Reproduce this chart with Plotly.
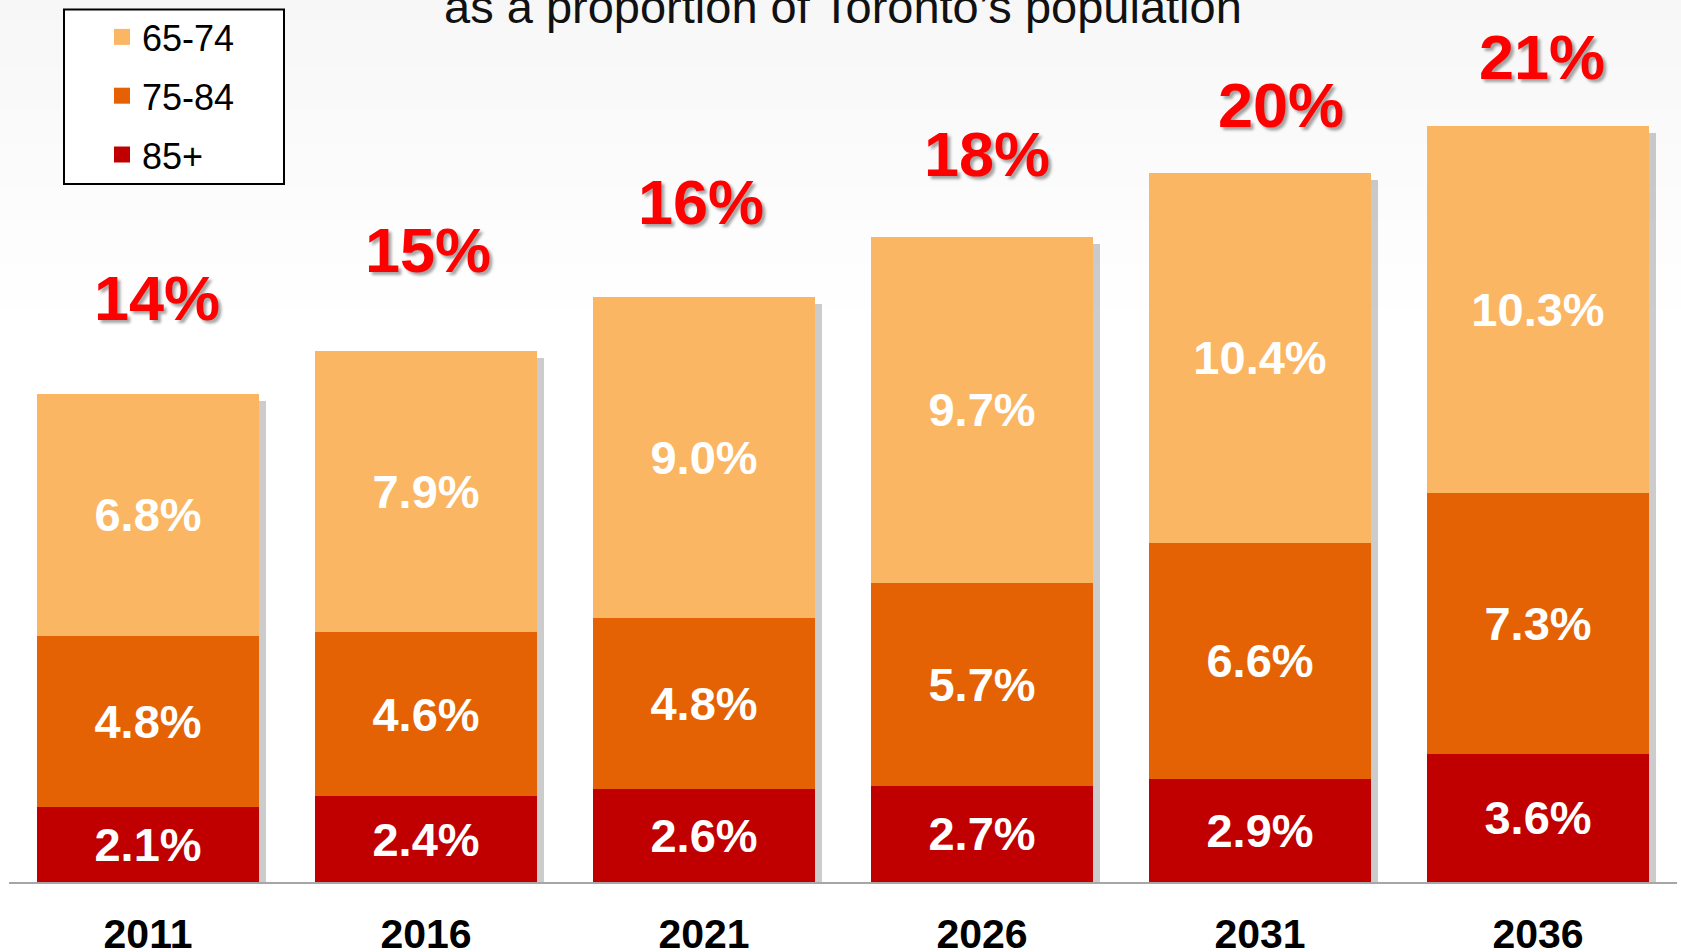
import plotly.graph_objects as go

# values (% of Toronto's population)
years = ["2011", "2016", "2021", "2026", "2031", "2036"]
age_85_plus = [2.1, 2.4, 2.6, 2.7, 2.9, 3.6]
age_75_84 = [4.8, 4.6, 4.8, 5.7, 6.6, 7.3]
age_65_74 = [6.8, 7.9, 9.0, 9.7, 10.4, 10.3]
total_labels = ["14%", "15%", "16%", "18%", "20%", "21%"]

colors = {"65-74": "#FBB664", "75-84": "#E46204", "85+": "#C00000"}

W, H = 1681, 952
L, R, T, B = 9, 4, 0, 70
plot_w = W - L - R
plot_h = H - T - B
px_per_unit = 35.65
y_top = plot_h / px_per_unit

series = [("85+", age_85_plus), ("75-84", age_75_84), ("65-74", age_65_74)]
totals = [a + b + c for a, b, c in zip(age_85_plus, age_75_84, age_65_74)]

fig = go.Figure()

# soft drop shadow behind each stacked bar (drawn on the base axes, offset a few px)
fig.add_trace(go.Bar(
    x=years, y=totals, xaxis="x", yaxis="y",
    marker=dict(color="rgba(0,0,0,0.2)", line=dict(width=0)),
    showlegend=False, hoverinfo="skip",
))

for name, vals in series:
    fig.add_trace(go.Bar(
        x=years, y=vals, name=name, xaxis="x2", yaxis="y2",
        marker=dict(color=colors[name], line=dict(width=0)),
        text=[f"{v:.1f}%" for v in vals],
        textposition="inside", insidetextanchor="middle", textangle=0,
        textfont=dict(family="Liberation Sans, Arial", size=47, color="white", weight="bold"),
        showlegend=False,
        hovertemplate="%{x}<br>" + name + ": %{y:.1f}%<extra></extra>",
    ))

# legend entries (square markers), top item first
for i, name in enumerate(["65-74", "75-84", "85+"]):
    fig.add_trace(go.Scatter(
        x=[None], y=[None], mode="markers", name=name, legendgroup=name,
        legendrank=i, xaxis="x2", yaxis="y2",
        marker=dict(symbol="square", size=18, color=colors[name]),
    ))

# red total labels, placed along a rising line above the bars (hand-nudged as in the slide)
label_nudge_px = [9, 2, -3, 5, 21, 4]
annotations = []
for i, lab in enumerate(total_labels):
    label_val = 16.39 + 1.348 * i
    annotations.append(dict(
        x=(i + 0.5) / len(years), y=label_val / y_top, xref="paper", yref="paper",
        xshift=label_nudge_px[i], text=lab, showarrow=False,
        xanchor="center", yanchor="middle",
        font=dict(family="Liberation Sans, Arial", size=63, color="#FF0000",
                  weight="bold", shadow="3px 3px 3px rgba(0,0,0,0.35)"),
    ))

annotations.append(dict(
    x=0.5, y=1, xref="paper", yref="paper", yanchor="bottom", yshift=-35,
    text="as a proportion of Toronto’s population", showarrow=False,
    font=dict(family="Liberation Sans, Arial", size=47, color="#111111"),
))

# faint grey-to-white gradient at the top of the slide
shapes = []
n_strips = 30
grad_px = 330
for k in range(n_strips):
    p0 = grad_px * k / n_strips
    p1 = grad_px * (k + 1) / n_strips
    g = int(round(247 + 8 * k / (n_strips - 1)))
    shapes.append(dict(
        type="rect", xref="paper", yref="paper", layer="below",
        x0=-L / plot_w, x1=1 + R / plot_w,
        y0=1 - p1 / plot_h, y1=1 - p0 / plot_h,
        fillcolor=f"rgb({g},{g},{g})", line=dict(width=0),
    ))

# legend frame
shapes.append(dict(
    type="rect", xref="paper", yref="paper", layer="below",
    x0=(64 - L) / plot_w, x1=(284 - L) / plot_w,
    y0=1 - 184 / plot_h, y1=1 - 9.6 / plot_h,
    fillcolor="white", line=dict(color="black", width=2),
))

shift_x = 7 / (plot_w / 6)
shift_y = 7 / px_per_unit

fig.update_layout(
    width=W, height=H,
    margin=dict(l=L, r=R, t=T, b=B, autoexpand=False),
    paper_bgcolor="white",
    plot_bgcolor="rgba(0,0,0,0)",
    barmode="stack",
    bargap=0.2,
    font=dict(family="Liberation Sans, Arial", color="black"),
    xaxis=dict(type="category", range=[-0.5 - shift_x, 5.5 - shift_x], automargin=False,
               showticklabels=False, showline=False, showgrid=False, zeroline=False),
    yaxis=dict(range=[shift_y, y_top + shift_y], visible=False, showgrid=False, automargin=False),
    xaxis2=dict(type="category", overlaying="x", side="bottom", range=[-0.5, 5.5],
                automargin=False,
                showline=True, linecolor="#A6A6A6", linewidth=2,
                showgrid=False, zeroline=False, ticks="",
                ticklabelstandoff=15,
                tickfont=dict(family="Liberation Sans, Arial", size=41, color="black", weight="bold")),
    yaxis2=dict(overlaying="y", range=[0, y_top], visible=False, showgrid=False, automargin=False),
    legend=dict(
        x=(102 - L) / plot_w, y=1 - 7 / plot_h, xanchor="left", yanchor="top",
        bgcolor="rgba(0,0,0,0)", borderwidth=0,
        font=dict(family="Liberation Sans, Arial", size=36, color="black"),
        tracegroupgap=9, itemsizing="trace",
    ),
    annotations=annotations,
    shapes=shapes,
    showlegend=True,
)

fig.write_html("out.html", config={"displayModeBar": False},
               post_script="document.body.style.margin='0';")
